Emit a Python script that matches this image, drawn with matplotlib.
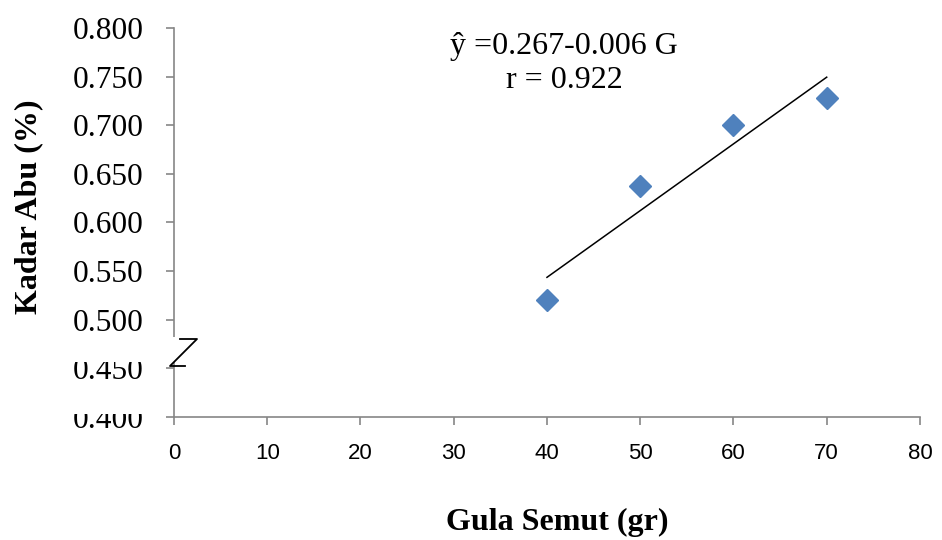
import matplotlib
matplotlib.use("Agg")
import matplotlib.pyplot as plt
import numpy as np
from matplotlib.patches import Rectangle
from matplotlib.lines import Line2D

# data
gula = [40, 50, 60, 70]
kadar_abu = [0.520, 0.638, 0.700, 0.728]
y_ticks = [0.400, 0.450, 0.500, 0.550, 0.600, 0.650, 0.700, 0.750, 0.800]
x_ticks = [0, 10, 20, 30, 40, 50, 60, 70, 80]
eq_text = "ŷ =0.267-0.006 G\nr = 0.922"

serif = "Liberation Serif"
gray = "#868686"

fig = plt.figure(figsize=(9.42, 5.40), dpi=100)
ax = fig.add_axes([0.1847, 0.2278, 0.7919, 0.7204])

# points and trend line
ax.plot(gula, kadar_abu, "D", color="#4F81BD", markersize=11.5, zorder=3)
slope, intercept = np.polyfit(gula, kadar_abu, 1)
xl = np.array([gula[0], gula[-1]])
ax.plot(xl, intercept + slope * xl, color="black", lw=1.1, zorder=2)

ax.set_xlim(0, 80)
ax.set_ylim(0.400, 0.800)
ax.set_xticks(x_ticks)
ax.set_yticks(y_ticks)
ax.set_yticklabels([f"{v:.3f}" for v in y_ticks], fontfamily=serif, fontsize=22.6)
ax.set_xticklabels([str(v) for v in x_ticks], fontfamily="Liberation Sans", fontsize=16)

for s in ["top", "right"]:
    ax.spines[s].set_visible(False)
for s in ["left", "bottom"]:
    ax.spines[s].set_color(gray)
    ax.spines[s].set_linewidth(1.2)
ax.tick_params(axis="both", color=gray, length=6, width=1.2)
ax.tick_params(axis="y", pad=16)
ax.tick_params(axis="x", pad=13)

ax.text(0.523, 0.909, eq_text, transform=ax.transAxes, ha="center", va="center",
        fontfamily=serif, fontsize=23, linespacing=1.2)

fig.text(0.031, 0.618, "Kadar Abu (%)", rotation=90, ha="center", va="center",
         fontfamily=serif, fontsize=23, fontweight="bold")
fig.text(0.592, 0.033, "Gula Semut (gr)", ha="center", va="center",
         fontfamily=serif, fontsize=23, fontweight="bold")

# axis break: white masks and the Z mark
W, H = 942.0, 540.0
def px_rect(x0, y0, x1, y1):
    return Rectangle((x0 / W, 1 - y1 / H), (x1 - x0) / W, (y1 - y0) / H,
                     transform=fig.transFigure, facecolor="white",
                     edgecolor="none", zorder=5)

fig.patches.append(px_rect(60, 337, 199, 362))
fig.patches.append(px_rect(60, 394, 160, 414))
zx = np.array([180, 197, 170, 185]) / W
zy = 1 - np.array([339, 339, 366, 366]) / H
fig.lines.append(Line2D(zx, zy, transform=fig.transFigure, color="black",
                        lw=1.3, zorder=6))

fig.savefig("out.png", dpi=100)
